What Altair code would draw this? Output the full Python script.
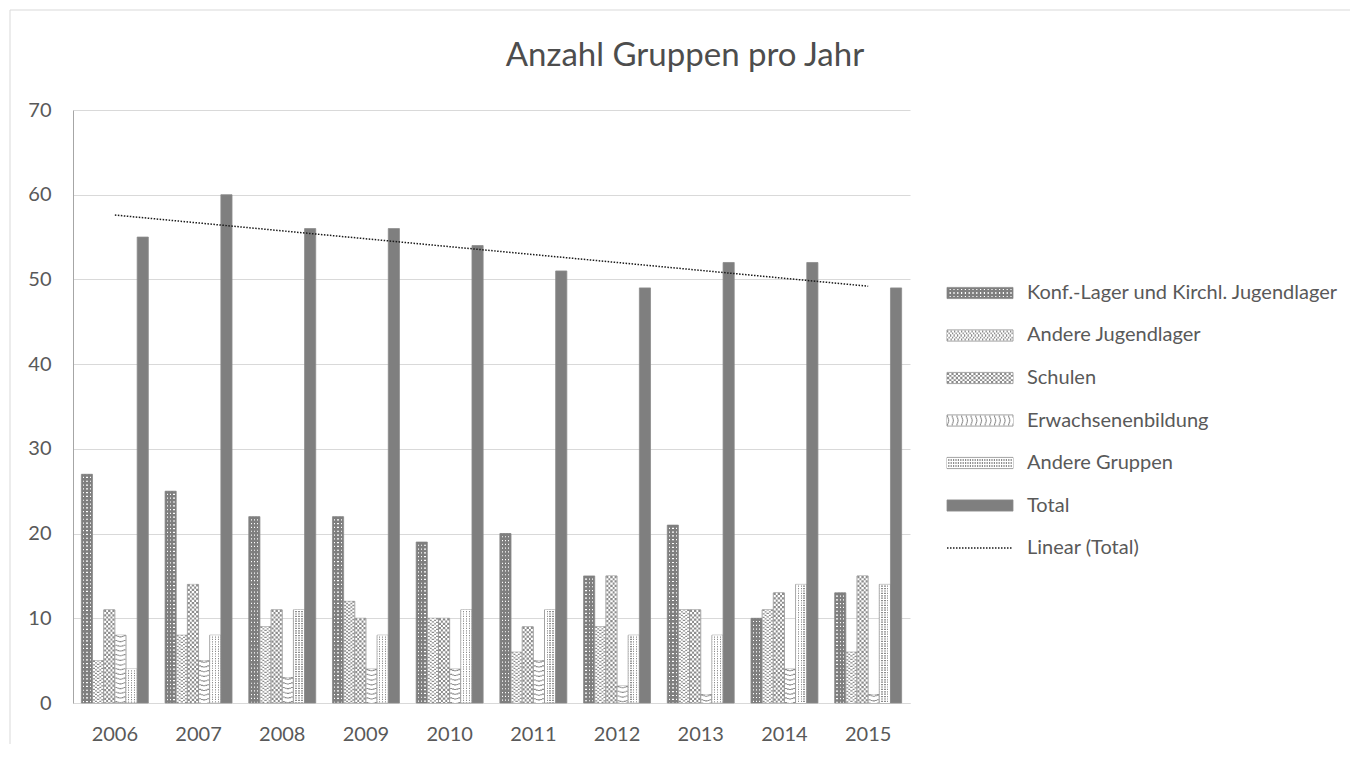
import altair as alt
import pandas as pd

TITLE = "Anzahl Gruppen pro Jahr"
years = [2006, 2007, 2008, 2009, 2010, 2011, 2012, 2013, 2014, 2015]
series_names = [
    "Konf.-Lager und Kirchl. Jugendlager",
    "Andere Jugendlager",
    "Schulen",
    "Erwachsenenbildung",
    "Andere Gruppen",
    "Total",
]
trend_name = "Linear (Total)"
konf = [27, 25, 22, 22, 19, 20, 15, 21, 10, 13]
andere_jugend = [5, 8, 9, 12, 10, 6, 9, 11, 11, 6]
schulen = [11, 14, 11, 10, 10, 9, 15, 11, 13, 15]
erwachsen = [8, 5, 3, 4, 4, 5, 2, 1, 4, 1]
andere_gruppen = [4, 8, 11, 8, 11, 11, 8, 8, 14, 14]
total = [55, 60, 56, 56, 54, 51, 49, 52, 52, 49]
y_ticks = [0, 10, 20, 30, 40, 50, 60, 70]

series_values = [konf, andere_jugend, schulen, erwachsen, andere_gruppen, total]
rows = []
for name, vals in zip(series_names, series_values):
    for yr, v in zip(years, vals):
        rows.append({"year": yr, "series": name, "value": v})
df = pd.DataFrame(rows)
legend_labels = series_names + [trend_name]
leg_df = pd.DataFrame({"label": legend_labels})
one = pd.DataFrame({"t": [TITLE]})

GREY = "#7f7f7f"
LINE = "#8c8c8c"
WHITE = "#ffffff"
TXT = "#595959"
FONT = "Lato"


def grad(base, stripe, bands, along_x):
    stops = [{"offset": 0, "color": base}]
    for a, b in bands:
        stops += [
            {"offset": a, "color": base},
            {"offset": a, "color": stripe},
            {"offset": b, "color": stripe},
            {"offset": b, "color": base},
        ]
    stops.append({"offset": 1, "color": base})
    if along_x:
        return {"gradient": "linear", "x1": 0, "y1": 0, "x2": 1, "y2": 0, "stops": stops}
    return {"gradient": "linear", "x1": 0, "y1": 0, "x2": 0, "y2": 1, "stops": stops}


patterns = {
    series_names[0]: dict(fill=(GREY, WHITE, [(0.16, 0.27), (0.45, 0.56), (0.74, 0.85)]),
                          rules=[(10.0, GREY, [2.6, 1.2], 0)]),
    series_names[1]: dict(fill=WHITE,
                          rules=[(10.2, LINE, [1.3, 2.2], 0), (6.2, WHITE, None, 0),
                                 (6.2, LINE, [1.3, 2.2], 2.0), (2.4, WHITE, None, 0),
                                 (2.4, LINE, [1.3, 2.2], 0.5)]),
    series_names[2]: dict(fill=WHITE,
                          rules=[(10.2, LINE, [2.2, 2.2], 0), (6.2, WHITE, None, 0),
                                 (6.2, LINE, [2.2, 2.2], 2.2), (2.4, WHITE, None, 0),
                                 (2.4, LINE, [2.2, 2.2], 0)]),
    series_names[3]: dict(fill=WHITE,
                          rules=[(10.2, LINE, [1.1, 3.6], 0), (6.2, WHITE, None, 0),
                                 (6.2, LINE, [1.1, 3.6], 4.0), (2.4, WHITE, None, 0),
                                 (2.4, LINE, [1.1, 3.6], 3.6)]),
    series_names[4]: dict(fill=(WHITE, LINE, [(0.18, 0.3), (0.44, 0.56), (0.7, 0.82)]),
                          rules=[(10.2, WHITE, [1.2, 1.2], 0)]),
    series_names[5]: dict(fill=GREY, rules=[]),
}


def fillspec(p, along_x):
    f = p["fill"]
    if isinstance(f, tuple):
        return grad(f[0], f[1], f[2], along_x)
    return f


def rule_kw(w, c, dash, off):
    kw = dict(strokeWidth=w, stroke=c, strokeCap="butt")
    if dash:
        kw.update(strokeDash=dash, strokeDashOffset=off)
    return kw


def xenc():
    return alt.X(
        "year:O",
        scale=alt.Scale(type="band", domain=years, paddingInner=0.2, paddingOuter=0.1),
        axis=alt.Axis(title=None, labelAngle=0, labelFontSize=20, labelColor=TXT,
                      labelPadding=21, ticks=False, domainColor="#d9d9d9", grid=False,
                      labelFont=FONT),
    )


def yenc():
    return alt.Y(
        "value:Q",
        scale=alt.Scale(domain=[0, 70]),
        axis=alt.Axis(title=None, values=y_ticks, labelFontSize=20, labelColor=TXT,
                      labelPadding=22, ticks=False, domainColor="#a6a6a6",
                      gridColor="#d9d9d9", grid=True, labelFont=FONT),
    )


def xoff():
    return alt.XOffset("series:N",
                       scale=alt.Scale(domain=series_names, paddingInner=0, paddingOuter=0))


bar_layers = []
for s in series_names:
    p = patterns[s]
    base = alt.Chart(df).transform_filter(alt.FieldEqualPredicate(field="series", equal=s))
    bar_layers.append(
        base.mark_bar(fill=fillspec(p, True), stroke=LINE, strokeWidth=0.8)
        .encode(x=xenc(), xOffset=xoff(), y=yenc())
    )
    for (w, c, dash, off) in p["rules"]:
        bar_layers.append(
            base.mark_rule(**rule_kw(w, c, dash, off))
            .encode(x=xenc(), xOffset=xoff(), y=yenc(), y2=alt.datum(0))
        )
bars = alt.layer(*bar_layers)

trend = (
    alt.Chart(df)
    .transform_filter(alt.FieldEqualPredicate(field="series", equal="Total"))
    .transform_regression("year", "value")
    .mark_line(stroke="#1a1a1a", strokeWidth=1.5, strokeDash=[1.5, 1.5])
    .encode(
        x=alt.X("year:Q", scale=alt.Scale(domain=[2005.5, 2015.5], nice=False, zero=False), axis=None),
        y=alt.Y("value:Q", scale=alt.Scale(domain=[0, 70], nice=False), axis=None),
    )
)

LX0, LX1, LTX = 874, 940, 954
LEG_RANGE = [177.4, 443.6]


def legy():
    return alt.Y("label:N",
                 scale=alt.Scale(type="band", domain=legend_labels, paddingInner=0.737,
                                 paddingOuter=0, range=LEG_RANGE),
                 axis=None)


leg_layers = []
for s in series_names:
    p = patterns[s]
    lb = alt.Chart(leg_df).transform_filter(alt.FieldEqualPredicate(field="label", equal=s))
    leg_layers.append(
        lb.mark_rect(fill=fillspec(p, False), stroke=LINE, strokeWidth=0.8)
        .encode(x=alt.value(LX0), x2=alt.value(LX1), y=legy())
    )
    for (w, c, dash, off) in p["rules"]:
        leg_layers.append(
            lb.mark_rule(**rule_kw(w, c, dash, off))
            .encode(x=alt.value(LX0), x2=alt.value(LX1), y=legy())
        )
leg_layers.append(
    alt.Chart(leg_df)
    .transform_filter(alt.FieldEqualPredicate(field="label", equal=trend_name))
    .mark_rule(stroke="#1a1a1a", strokeWidth=1.3, strokeDash=[1.5, 1.5])
    .encode(x=alt.value(LX0), x2=alt.value(LX1), y=legy())
)
leg_layers.append(
    alt.Chart(leg_df)
    .mark_text(align="left", baseline="middle", fontSize=20, color=TXT, font=FONT)
    .encode(x=alt.value(LTX), y=legy(), text="label:N")
)
legend = alt.layer(*leg_layers)

frame_left = alt.Chart(one).mark_rule(stroke="#d9d9d9", strokeWidth=1).encode(
    x=alt.value(-63), y=alt.value(-100), y2=alt.value(660))
frame_top = alt.Chart(one).mark_rule(stroke="#d9d9d9", strokeWidth=1).encode(
    x=alt.value(-63), x2=alt.value(1290), y=alt.value(-100))
title = alt.Chart(one).mark_text(
    fontSize=33, color="#4d4d4d", font=FONT, align="center", baseline="alphabetic"
).encode(x=alt.value(612), y=alt.value(-44), text="t:N")

chart = (
    alt.layer(frame_left, frame_top, bars, trend, legend, title)
    .resolve_scale(x="independent", y="independent")
    .properties(
        width=837,
        height=593,
        autosize="none",
        padding={"left": 65, "top": 102, "right": 440, "bottom": 41},
        background="white",
    )
    .configure(font=FONT)
    .configure_view(stroke="transparent")
)

chart.save("out.html", embed_options={"renderer": "svg", "actions": False})
